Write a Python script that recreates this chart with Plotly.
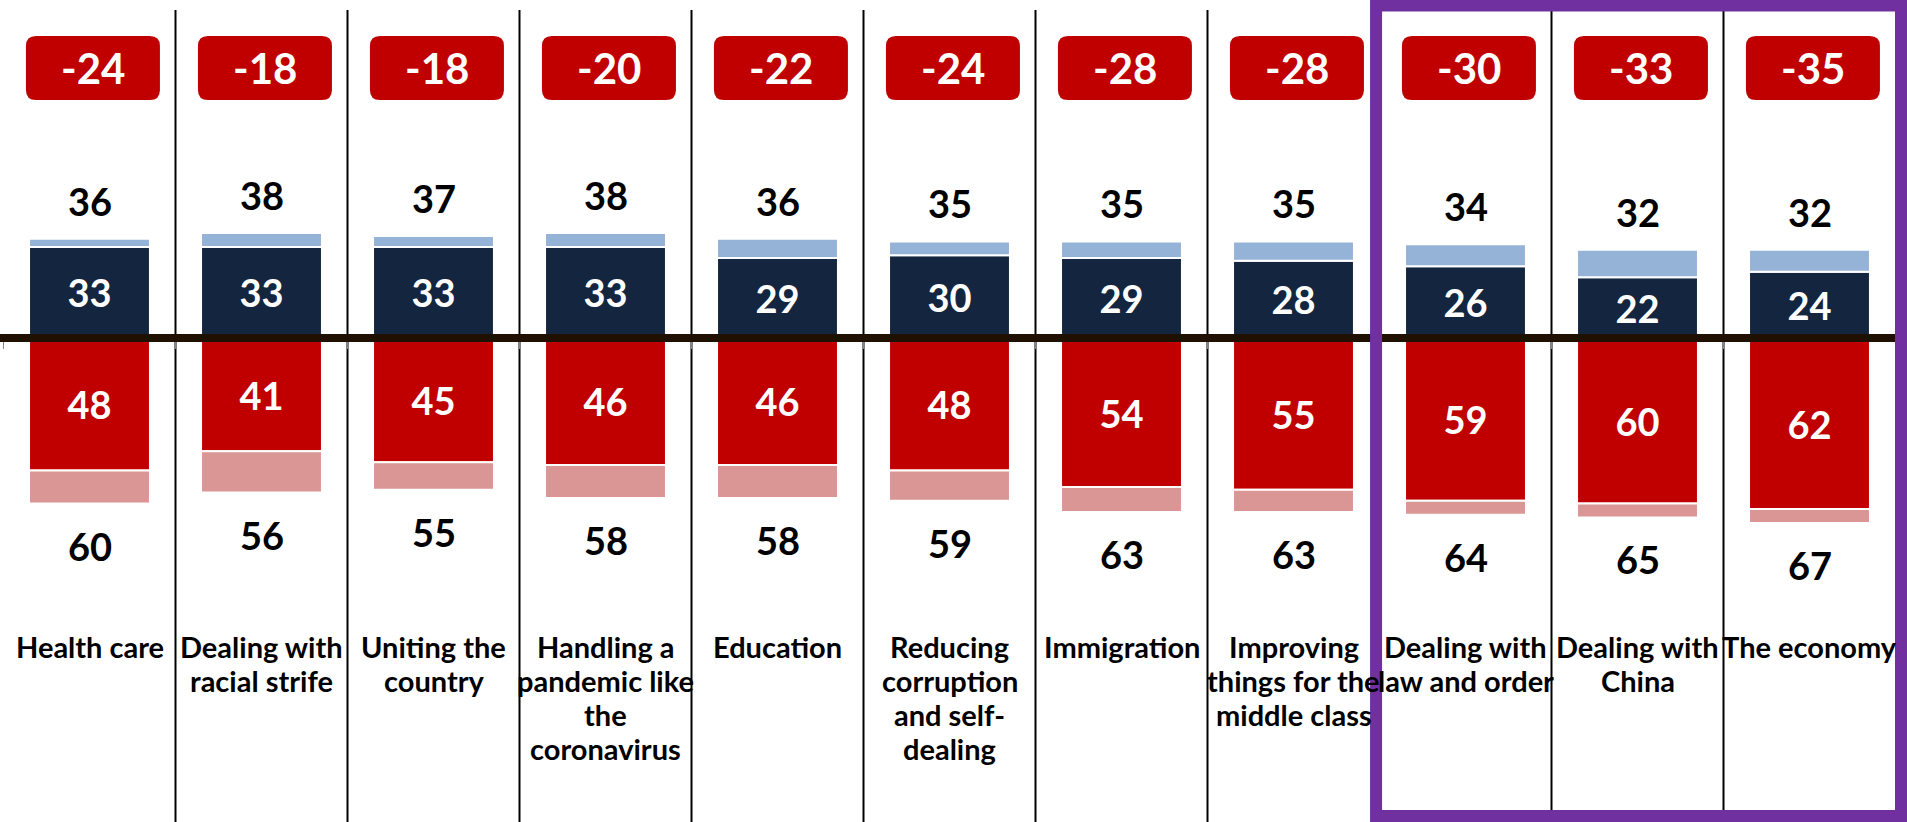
import plotly.graph_objects as go

# ---------------- data ----------------
categories = ["Health care", "Dealing with racial strife", "Uniting the country",
              "Handling a pandemic like the coronavirus", "Education",
              "Reducing corruption and self-dealing", "Immigration",
              "Improving things for the middle class", "Dealing with law and order",
              "Dealing with China", "The economy"]
label_lines = [["Health care"], ["Dealing with", "racial strife"], ["Uniting the", "country"],
               ["Handling a", "pandemic like", "the", "coronavirus"], ["Education"],
               ["Reducing", "corruption", "and self-", "dealing"], ["Immigration"],
               ["Improving", "things for the", "middle class"], ["Dealing with", "law and order"],
               ["Dealing with", "China"], ["The economy"]]
strong_pos = [33, 33, 33, 33, 29, 30, 29, 28, 26, 22, 24]
total_pos = [36, 38, 37, 38, 36, 35, 35, 35, 34, 32, 32]
strong_neg = [48, 41, 45, 46, 46, 48, 54, 55, 59, 60, 62]
total_neg = [60, 56, 55, 58, 58, 59, 63, 63, 64, 65, 67]
net = [-24, -18, -18, -20, -22, -24, -28, -28, -30, -33, -35]
highlighted = ["Dealing with law and order", "Dealing with China", "The economy"]

# ---------------- style ----------------
W, H = 1907, 822
NAVY = "#13253F"
LIGHT_BLUE = "#95B3D7"
RED = "#C00000"
PINK = "#DA9694"
BASE = "#201000"
PURPLE = "#7030A0"
FONT = "Lato"

px_per_unit = 2.76
base_px = 338
y_top = base_px / px_per_unit
y_bot = -(H - base_px) / px_per_unit
x_left = -89.5 / 172.0
x_right = (W - 89.5) / 172.0

lean_pos = [t - s for t, s in zip(total_pos, strong_pos)]
lean_neg = [t - s for t, s in zip(total_neg, strong_neg)]

fig = go.Figure()
bar_line = dict(color="white", width=2)
fig.add_trace(go.Bar(x=categories, y=strong_pos, marker=dict(color=NAVY, line=bar_line),
                     text=[str(v) for v in strong_pos], textposition="inside",
                     insidetextanchor="middle", constraintext="none", textangle=0,
                     textfont=dict(family=FONT, size=38, color="white", weight="bold")))
fig.add_trace(go.Bar(x=categories, y=lean_pos, marker=dict(color=LIGHT_BLUE, line=bar_line)))
fig.add_trace(go.Bar(x=categories, y=[-v for v in strong_neg], marker=dict(color=RED, line=bar_line),
                     text=[str(v) for v in strong_neg], textposition="inside",
                     insidetextanchor="middle", constraintext="none", textangle=0,
                     textfont=dict(family=FONT, size=38, color="white", weight="bold")))
fig.add_trace(go.Bar(x=categories, y=[-v for v in lean_neg], marker=dict(color=PINK, line=bar_line)))

shapes = []
annotations = []
n = len(categories)

# column separators
for i in range(n - 1):
    shapes.append(dict(type="line", xref="x", yref="paper", x0=i + 0.5, x1=i + 0.5,
                       y0=0, y1=1 - 10 / H, line=dict(color="black", width=2), layer="below"))

# thick baseline
shapes.append(dict(type="line", xref="paper", yref="y", x0=0, x1=1, y0=0, y1=0,
                   line=dict(color=BASE, width=8), layer="above"))

# purple highlight frame
h0 = categories.index(highlighted[0])
h1 = categories.index(highlighted[-1])
shapes.append(dict(type="rect", xref="x", yref="paper",
                   x0=h0 - 0.5 - 0.02, x1=h1 + 0.5 + 0.032,
                   y0=6 / H, y1=1 - 5.5 / H,
                   line=dict(color=PURPLE, width=12), fillcolor="rgba(0,0,0,0)", layer="above"))

# net boxes (rounded)
bw, bh, r = 67, 32, 10
box_path = (f"M {-bw + r},{-bh} L {bw - r},{-bh} Q {bw},{-bh} {bw},{-bh + r} "
            f"L {bw},{bh - r} Q {bw},{bh} {bw - r},{bh} L {-bw + r},{bh} "
            f"Q {-bw},{bh} {-bw},{bh - r} L {-bw},{-bh + r} Q {-bw},{-bh} {-bw + r},{-bh} Z")
net_y = (base_px - 68) / px_per_unit
for i, v in enumerate(net):
    shapes.append(dict(type="path", xref="x", yref="y", xsizemode="pixel", ysizemode="pixel",
                       xanchor=i + 0.02, yanchor=net_y, path=box_path,
                       fillcolor=RED, line=dict(width=0), layer="above"))
    annotations.append(dict(x=i + 0.02, y=net_y, xref="x", yref="y", text=str(v), showarrow=False,
                            xanchor="center", yanchor="middle",
                            font=dict(family=FONT, size=42, color="white", weight="bold")))

# total labels
for i in range(n):
    annotations.append(dict(x=i, y=total_pos[i], xref="x", yref="y", text=str(total_pos[i]),
                            showarrow=False, yshift=38, yanchor="middle",
                            font=dict(family=FONT, size=38, color="black", weight="bold")))
    annotations.append(dict(x=i, y=-total_neg[i], xref="x", yref="y", text=str(total_neg[i]),
                            showarrow=False, yshift=-42, yanchor="middle",
                            font=dict(family=FONT, size=38, color="black", weight="bold")))

# category labels (one annotation per line)
lab_y = (base_px - 646) / px_per_unit
for i, lines in enumerate(label_lines):
    for j, line in enumerate(lines):
        annotations.append(dict(x=i, y=lab_y, xref="x", yref="y", text=line, showarrow=False,
                                yshift=-34 * j, yanchor="middle", xanchor="center",
                                font=dict(family=FONT, size=29, color="black", weight="bold")))

fig.update_layout(
    width=W, height=H,
    margin=dict(l=0, r=0, t=0, b=0, pad=0),
    barmode="relative", bargap=1 - 0.703,
    showlegend=False,
    paper_bgcolor="white", plot_bgcolor="white",
    font=dict(family=FONT),
    shapes=shapes, annotations=annotations,
    xaxis=dict(type="category", range=[x_left, x_right], showticklabels=False,
               ticks="outside", tickson="boundaries", ticklen=10, tickcolor="#888", tickwidth=1,
               showgrid=False, zeroline=False, showline=False, fixedrange=True,
               anchor="free", position=(H - base_px) / H),
    yaxis=dict(range=[y_bot, y_top], visible=False, showgrid=False, zeroline=False, fixedrange=True),
)

fig.write_html("out.html", config={"displayModeBar": False},
               post_script="document.body.style.margin='0';document.body.style.overflow='hidden';")
